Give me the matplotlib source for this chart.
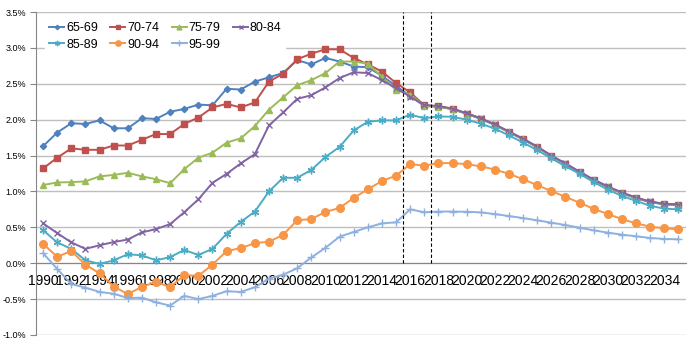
import matplotlib
matplotlib.use('Agg')
import matplotlib.pyplot as plt
import numpy as np

years = list(range(1990, 2036))

s65_69 = [1.63, 1.82, 1.95, 1.94, 1.99, 1.88, 1.88, 2.02, 2.01, 2.11,
          2.15, 2.21, 2.20, 2.43, 2.42, 2.53, 2.59, 2.65, 2.83, 2.77,
          2.86, 2.81, 2.74, 2.73, 2.61, 2.47, 2.33,
          2.19, 2.18, 2.145, 2.08, 2.01, 1.925, 1.825, 1.725, 1.615, 1.49,
          1.38, 1.265, 1.155, 1.06, 0.975, 0.905, 0.85, 0.82, 0.81]
s70_74 = [1.32, 1.47, 1.60, 1.58, 1.58, 1.64, 1.64, 1.72, 1.80, 1.80,
          1.94, 2.03, 2.17, 2.22, 2.17, 2.24, 2.53, 2.64, 2.84, 2.92,
          2.98, 2.98, 2.86, 2.77, 2.67, 2.51, 2.38,
          2.20, 2.185, 2.15, 2.085, 2.015, 1.93, 1.83, 1.73, 1.62, 1.495,
          1.385, 1.27, 1.16, 1.065, 0.98, 0.91, 0.855, 0.825, 0.815]
s75_79 = [1.09, 1.125, 1.13, 1.14, 1.21, 1.23, 1.26, 1.21, 1.17, 1.115,
          1.31, 1.47, 1.54, 1.68, 1.74, 1.91, 2.14, 2.31, 2.48, 2.55,
          2.65, 2.81, 2.81, 2.78, 2.60, 2.41, 2.35,
          2.195, 2.18, 2.15, 2.085, 2.015, 1.93, 1.83, 1.73, 1.62, 1.495,
          1.385, 1.27, 1.16, 1.065, 0.98, 0.91, 0.855, 0.823, 0.813]
s80_84 = [0.555, 0.42, 0.29, 0.20, 0.25, 0.295, 0.33, 0.43, 0.475, 0.545,
          0.71, 0.89, 1.12, 1.245, 1.39, 1.52, 1.92, 2.10, 2.29, 2.34,
          2.45, 2.58, 2.66, 2.65, 2.55, 2.44, 2.32,
          2.205, 2.19, 2.155, 2.09, 2.02, 1.935, 1.835, 1.735, 1.625, 1.50,
          1.39, 1.275, 1.165, 1.07, 0.985, 0.915, 0.86, 0.828, 0.818]
s85_89 = [0.46, 0.29, 0.20, 0.04, -0.01, 0.04, 0.125, 0.11, 0.04, 0.085,
          0.185, 0.115, 0.20, 0.41, 0.575, 0.72, 1.00, 1.19, 1.19, 1.30,
          1.48, 1.62, 1.85, 1.97, 1.99, 1.99, 2.07, 2.02, 2.045, 2.04,
          2.00, 1.945, 1.875, 1.78, 1.68, 1.575, 1.46, 1.35, 1.245, 1.13,
          1.025, 0.937, 0.868, 0.80, 0.76, 0.75]
s90_94 = [0.27, 0.09, 0.17, -0.02, -0.14, -0.325, -0.43, -0.33, -0.26, -0.335,
          -0.165, -0.175, -0.02, 0.17, 0.21, 0.28, 0.30, 0.395, 0.60, 0.615,
          0.715, 0.77, 0.91, 1.03, 1.145, 1.22, 1.38, 1.36, 1.395, 1.395,
          1.38, 1.35, 1.305, 1.245, 1.17, 1.088, 1.004, 0.925, 0.842, 0.758,
          0.685, 0.615, 0.555, 0.51, 0.486, 0.472]
s95_99 = [0.14, -0.08, -0.29, -0.34, -0.40, -0.425, -0.485, -0.48, -0.545, -0.59,
          -0.455, -0.50, -0.455, -0.39, -0.40, -0.335, -0.215, -0.16, -0.07, 0.08,
          0.215, 0.37, 0.435, 0.50, 0.555, 0.57, 0.75, 0.71, 0.72, 0.72,
          0.717, 0.708, 0.685, 0.657, 0.629, 0.597, 0.565, 0.532, 0.495, 0.458,
          0.426, 0.398, 0.375, 0.352, 0.338, 0.333]

labels = ['65-69', '70-74', '75-79', '80-84', '85-89', '90-94', '95-99']
divider_years = [2015.5, 2017.5]

series = [s65_69, s70_74, s75_79, s80_84, s85_89, s90_94, s95_99]
colors = ['#4F81BD', '#C0504D', '#9BBB59', '#8064A2', '#4BACC6', '#F79646', '#8DB0DE']
markers = ['D', 's', '^', 'x', (6, 2, 0), 'o', '+']
msizes = [3.2, 5, 5, 4.5, 5.5, 5.5, 6]

plt.rcParams['font.family'] = ['Liberation Sans', 'DejaVu Sans']

fig = plt.figure(figsize=(6.92, 3.45), dpi=100)
ax = fig.add_axes([36 / 692, 1 - 335 / 345, (685.5 - 36) / 692, (335 - 12) / 345])

lines = []
for y, lab, c, m, ms in zip(series, labels, colors, markers, msizes):
    ln, = ax.plot(years, y, color=c, lw=1.4, marker=m, ms=ms, mew=1.0,
                  mec=c, mfc=c, label=lab, zorder=3)
    lines.append(ln)

for d in divider_years:
    ax.plot([d, d], [0, 3.5], color='black', lw=0.8, ls=(0, (3, 2)), zorder=4)

ax.set_xlim(1989.5, 2035.5)
ax.set_ylim(-1.0, 3.5)
yt = np.arange(-1.0, 3.51, 0.5)
ax.set_yticks(yt)
ax.set_yticklabels(['%.1f%%' % v for v in yt], fontsize=6.5)
ax.set_xticks(years[::2])
ax.set_xticklabels([str(v) for v in years[::2]], fontsize=6.5)
ax.tick_params(axis='y', length=4, color='#868686', pad=3)
ax.tick_params(axis='x', length=0, pad=8)
ax.yaxis.grid(True, color='#bfbfbf', lw=1.0)
ax.set_axisbelow(True)

for s in ['top', 'right']:
    ax.spines[s].set_visible(False)
ax.spines['bottom'].set_position(('data', 0))
ax.spines['bottom'].set_color('#868686')
ax.spines['left'].set_color('#868686')

# legend is filled row by row in the original, matplotlib goes column-wise
order = [0, 4, 1, 5, 2, 6, 3]
leg = ax.legend([lines[i] for i in order], [labels[i] for i in order],
                loc='upper left', bbox_to_anchor=(0.005, 1.0), ncol=4, fontsize=9,
                frameon=True, handlelength=1.2, handletextpad=0.15, columnspacing=1.0,
                borderpad=0.3, labelspacing=0.38, markerscale=0.7)
leg.get_frame().set_facecolor('white')
leg.get_frame().set_edgecolor('white')
leg.get_frame().set_alpha(1)
leg.set_zorder(5)

fig.savefig('out.png', dpi=100)
